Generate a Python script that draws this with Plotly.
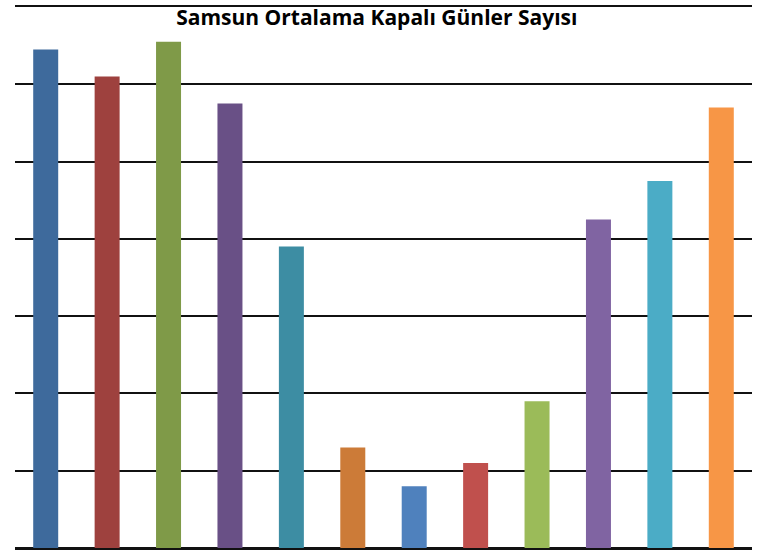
import plotly.graph_objects as go

months = ["Ocak", "Şubat", "Mart", "Nisan", "Mayıs", "Haziran",
          "Temmuz", "Ağustos", "Eylül", "Ekim", "Kasım", "Aralık"]
kapali_gunler = [12.9, 12.2, 13.1, 11.5, 7.8, 2.6, 1.6, 2.2, 3.8, 8.5, 9.5, 11.4]
bar_colors = ["#3E6A9C", "#9E413E", "#7F9A48", "#695086", "#3D8DA3", "#CC7B38",
              "#4F81BD", "#C0504D", "#9BBB59", "#8064A2", "#4BACC6", "#F79646"]
title_text = "Samsun Ortalama Kapalı Günler Sayısı"

fig = go.Figure(go.Bar(x=months, y=kapali_gunler, marker=dict(color=bar_colors, line=dict(width=0))))

fig.update_layout(
    width=769, height=552,
    paper_bgcolor="white", plot_bgcolor="white",
    margin=dict(l=15, r=17, t=7, b=4),
    bargap=0.593,
    showlegend=False,
    title=dict(text="<b>" + title_text + "</b>", x=0.49, xanchor="center",
               y=1 - 18 / 552, yanchor="middle", yref="container",
               font=dict(family="Open Sans", size=21, color="black")),
    xaxis=dict(showticklabels=False, showgrid=False, zeroline=False, ticks="",
               showline=True, mirror=True, linecolor="#111111", linewidth=2),
    yaxis=dict(range=[0, 14], dtick=2, showticklabels=False, showgrid=True,
               gridcolor="#111111", gridwidth=2, zeroline=True, zerolinecolor="#111111",
               zerolinewidth=2, showline=False, ticks=""),
)

fig.write_html("out.html", config={"displayModeBar": False},
               post_script="document.body.style.margin='0';")
